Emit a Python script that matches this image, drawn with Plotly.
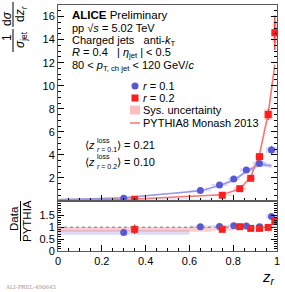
import plotly.graph_objects as go

# ---------------- data ----------------
z_r01 = [0.30, 0.65, 0.7375, 0.8025, 0.86, 0.92, 0.975]
lo_r01 = [0.0, 0.60, 0.70, 0.775, 0.83, 0.89, 0.95]
hi_r01 = [0.60, 0.70, 0.775, 0.83, 0.89, 0.95, 1.0]
val_r01 = [0.23, 0.90, 1.39, 1.91, 2.69, 3.25, 4.43]
stat_r01 = [0.02, 0.05, 0.06, 0.08, 0.10, 0.15, 0.35]
sys_r01 = [0.03, 0.07, 0.09, 0.11, 0.14, 0.17, 0.28]
ratio_r01 = [0.78, 1.02, 1.03, 1.06, 1.05, 1.02, 1.45]
rstat_r01 = [0.03, 0.03, 0.03, 0.03, 0.03, 0.04, 0.10]
rsys_r01 = [0.10, 0.05, 0.05, 0.05, 0.05, 0.05, 0.08]

z_r02 = [0.35, 0.75, 0.83, 0.88, 0.92, 0.96, 0.99]
lo_r02 = [0.0, 0.70, 0.80, 0.86, 0.90, 0.94, 0.98]
hi_r02 = [0.70, 0.80, 0.86, 0.90, 0.94, 0.98, 1.0]
val_r02 = [0.15, 0.50, 1.07, 1.97, 3.85, 7.5, 14.6]
stat_r02 = [0.02, 0.04, 0.06, 0.10, 0.20, 0.45, 1.5]
sys_r02 = [0.02, 0.05, 0.08, 0.12, 0.25, 0.45, 0.9]
ratio_r02 = [0.91, 0.91, 1.02, 0.95, 0.95, 0.99, 1.24]
rstat_r02 = [0.20, 0.05, 0.04, 0.04, 0.04, 0.05, 0.12]
rsys_r02 = [0.10, 0.05, 0.05, 0.05, 0.05, 0.05, 0.08]

pyth_z_r01 = [0.0, 0.30, 0.65, 0.7375, 0.8025, 0.86, 0.92, 0.975]
pyth_v_r01 = [0.10, 0.29, 0.88, 1.35, 1.80, 2.56, 3.19, 3.05]
pyth_z_r02 = [0.0, 0.35, 0.75, 0.83, 0.88, 0.92, 0.96, 0.99]
pyth_v_r02 = [0.05, 0.165, 0.55, 1.05, 2.07, 4.05, 7.6, 11.8]
pyth_rel_unc = 0.06

zloss_labels = ["0.1", "0.2"]
zloss_values = ["0.21", "0.10"]

# ---------------- style ----------------
FONT = "Liberation Sans"
BLUE = "rgb(88,88,215)"
RED = "rgb(255,30,30)"
BLUE_LINE = "rgb(150,150,235)"
RED_LINE = "rgb(255,115,115)"
BLUE_BAND = "rgba(150,150,235,0.35)"
RED_BAND = "rgba(255,120,120,0.30)"
BLUE_SYS = "rgba(140,140,230,0.30)"
RED_SYS = "rgba(255,110,110,0.35)"

W, H = 285, 292
L, R, T, B = 58, 8, 5, 41
PW, PH = W - L - R, H - T - B
SPLIT = (H - B - 201) / PH


def px(x):
    return (x - L) / PW


def py(y):
    return (H - B - y) / PH


fig = go.Figure()

# PYTHIA bands and lines (upper)
for zz, vv, band, line in [(pyth_z_r01, pyth_v_r01, BLUE_BAND, BLUE_LINE),
                           (pyth_z_r02, pyth_v_r02, RED_BAND, RED_LINE)]:
    up = [v * (1 + pyth_rel_unc) for v in vv]
    dn = [v * (1 - pyth_rel_unc) for v in vv]
    fig.add_trace(go.Scatter(x=zz + zz[::-1], y=up + dn[::-1], fill="toself",
                             fillcolor=band, line=dict(width=0), mode="lines",
                             xaxis="x", yaxis="y", hoverinfo="skip"))
    fig.add_trace(go.Scatter(x=zz, y=vv, mode="lines", line=dict(color=line, width=1.5),
                             xaxis="x", yaxis="y"))

shapes = []
# systematic boxes
for lo, hi, v, s, col, yref in ([(a, b, c, d, BLUE_SYS, "y") for a, b, c, d in zip(lo_r01, hi_r01, val_r01, sys_r01)] +
                                [(a, b, c, d, RED_SYS, "y") for a, b, c, d in zip(lo_r02, hi_r02, val_r02, sys_r02)] +
                                [(a, b, c, d, BLUE_SYS, "y2") for a, b, c, d in zip(lo_r01, hi_r01, ratio_r01, rsys_r01)] +
                                [(a, b, c, d, RED_SYS, "y2") for a, b, c, d in zip(lo_r02, hi_r02, ratio_r02, rsys_r02)]):
    shapes.append(dict(type="rect", xref="x", yref=yref, x0=lo, x1=hi, y0=v - s, y1=v + s,
                       fillcolor=col, line=dict(width=0), layer="below"))

# ratio line at 1
shapes.append(dict(type="line", xref="x", yref="y2", x0=0, x1=1, y0=1, y1=1,
                   line=dict(color="rgb(120,120,120)", width=1, dash="dot")))

# data points
fig.add_trace(go.Scatter(x=z_r01, y=val_r01, mode="markers",
                         error_y=dict(type="data", array=stat_r01, color=BLUE, thickness=1.2, width=0),
                         marker=dict(color=BLUE, size=7, symbol="circle"), xaxis="x", yaxis="y"))
fig.add_trace(go.Scatter(x=z_r02, y=val_r02, mode="markers",
                         error_y=dict(type="data", array=stat_r02, color=RED, thickness=1.2, width=0),
                         marker=dict(color=RED, size=7, symbol="square"), xaxis="x", yaxis="y"))
fig.add_trace(go.Scatter(x=z_r01, y=ratio_r01, mode="markers",
                         error_y=dict(type="data", array=rstat_r01, color=BLUE, thickness=1.2, width=0),
                         marker=dict(color=BLUE, size=7, symbol="circle"), xaxis="x2", yaxis="y2"))
fig.add_trace(go.Scatter(x=z_r02, y=ratio_r02, mode="markers",
                         error_y=dict(type="data", array=rstat_r02, color=RED, thickness=1.2, width=0),
                         marker=dict(color=RED, size=7, symbol="square"), xaxis="x2", yaxis="y2"))

ann = []


def text(x, y, t, size=11, xanchor="left", angle=0, color="black", family=FONT):
    ann.append(dict(x=px(x), y=py(y), xref="paper", yref="paper", text=t, showarrow=False,
                    xanchor=xanchor, yanchor="middle", textangle=angle,
                    font=dict(family=family, size=size, color=color)))


# header
text(70, 15, "<b>ALICE</b> Preliminary", 11.5)
text(70, 28, "pp √<i>s</i> = 5.02 TeV", 11)
text(70, 41, "Charged jets   anti-<i>k</i><sub>T</sub>", 11)
text(70, 53, "<i>R</i> = 0.4   | <i>η</i><sub>jet</sub> | &lt; 0.5", 11)
text(70, 66, "80 &lt; <i>p</i><sub>T, ch jet</sub> &lt; 120 GeV/<i>c</i>", 11)

# legend
text(141, 86, "<i>r</i> = 0.1", 11)
text(141, 98, "<i>r</i> = 0.2", 11)
text(141, 110, "Sys. uncertainty", 11)
text(141, 123, "PYTHIA8 Monash 2013", 11)
shapes.append(dict(type="circle", xref="paper", yref="paper", x0=px(131.5), x1=px(138.5),
                   y0=py(89.5), y1=py(82.5), fillcolor=BLUE, line=dict(width=0)))
shapes.append(dict(type="rect", xref="paper", yref="paper", x0=px(131.5), x1=px(138.5),
                   y0=py(101.5), y1=py(94.5), fillcolor=RED, line=dict(width=0)))
shapes.append(dict(type="rect", xref="paper", yref="paper", x0=px(130), x1=px(140),
                   y0=py(114.5), y1=py(105.5), fillcolor="rgb(255,190,190)", line=dict(width=0)))
shapes.append(dict(type="line", xref="paper", yref="paper", x0=px(130), x1=px(140),
                   y0=py(123), y1=py(123), line=dict(color=RED_LINE, width=1.5)))

# <z loss>
for i, (lab, val) in enumerate(zip(zloss_labels, zloss_values)):
    yc = 145 + 16.5 * i
    text(83, yc, "⟨<i>z</i>", 11)
    text(95, yc - 5, "loss", 7)
    text(95, yc + 4.5, "<i>r</i> = " + lab, 7)
    text(115, yc, "⟩ = " + val, 11)

# y titles
text(7, 38, "1", 12, xanchor="center", angle=-90)
text(21, 40, "<i>σ</i><sub>jet</sub>", 12, xanchor="center", angle=-90)
text(7, 19, "d<i>σ</i>", 12, xanchor="center", angle=-90)
text(21, 14, "d<i>z</i><sub><i>r</i></sub>", 12, xanchor="center", angle=-90)
shapes.append(dict(type="line", xref="paper", yref="paper", x0=px(13), x1=px(13),
                   y0=py(29), y1=py(52), line=dict(color="black", width=1)))
shapes.append(dict(type="line", xref="paper", yref="paper", x0=px(13), x1=px(13),
                   y0=py(2), y1=py(27), line=dict(color="black", width=1)))

text(14, 219, "Data", 11.5, xanchor="center", angle=-90)
text(27, 221, "PYTHIA", 11.5, xanchor="center", angle=-90)
shapes.append(dict(type="line", xref="paper", yref="paper", x0=px(20.5), x1=px(20.5),
                   y0=py(201), y1=py(241), line=dict(color="black", width=1)))

# x title
text(268, 277, "<i>z</i><sub><i>r</i></sub>", 15, xanchor="center")
# preliminary id
text(3, 287, "ALI-PREL-490645", 5.5, color="rgb(150,150,150)", family="DejaVu Serif")

axis_common = dict(ticks="inside", ticklen=6, tickcolor="black", showgrid=False, zeroline=False,
                   showline=True, linecolor="rgb(90,90,90)", linewidth=1,
                   tickfont=dict(family=FONT, size=11, color="black"))

fig.update_layout(
    width=W, height=H, margin=dict(l=L, r=R, t=T, b=B),
    paper_bgcolor="white", plot_bgcolor="white", showlegend=False,
    xaxis=dict(domain=[0, 1], anchor="y", range=[0, 1], dtick=0.2, showticklabels=False,
               mirror=True, minor=dict(dtick=0.05, ticks="inside", ticklen=3, tickcolor="black"),
               **axis_common),
    yaxis=dict(domain=[SPLIT, 1], anchor="x", range=[0, 17],
               tickvals=[2, 4, 6, 8, 10, 12, 14, 16], mirror="allticks",
               minor=dict(dtick=0.5, ticks="inside", ticklen=3, tickcolor="black"), **axis_common),
    xaxis2=dict(domain=[0, 1], anchor="y2", range=[0, 1], dtick=0.2, matches="x",
                mirror=True, minor=dict(dtick=0.05, ticks="inside", ticklen=3, tickcolor="black"),
                **axis_common),
    yaxis2=dict(domain=[0, SPLIT], anchor="x2", range=[0, 2.1], tickvals=[0, 0.5, 1, 1.5],
                ticktext=["0", "0.5", "1", "1.5"], mirror="allticks",
                minor=dict(dtick=0.1, ticks="inside", ticklen=3, tickcolor="black"), **axis_common),
    shapes=shapes, annotations=ann,
)

fig.write_html("out.html", config={"displayModeBar": False},
               post_script="document.body.style.margin='0';")
